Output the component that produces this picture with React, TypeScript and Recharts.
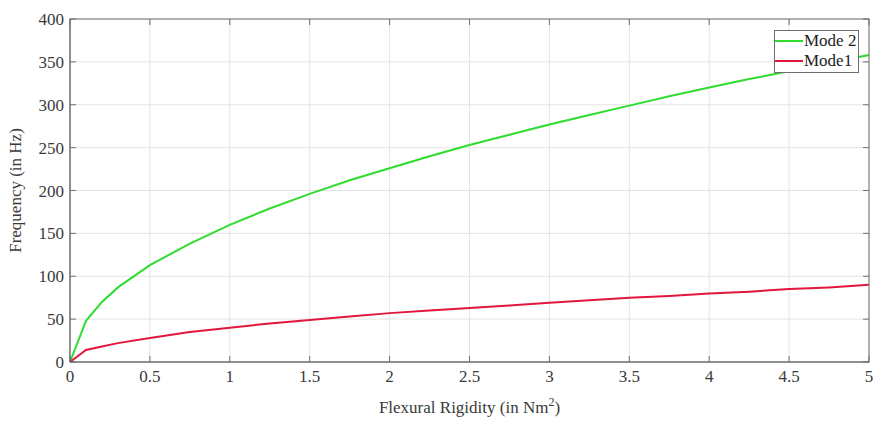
import { LineChart, Line, XAxis, YAxis, CartesianGrid, Legend, Label } from 'recharts';

// flexural rigidity (Nm^2) sample points
const rigidity = [0, 0.1, 0.2, 0.3, 0.5, 0.75, 1, 1.25, 1.5, 1.75, 2, 2.25, 2.5, 2.75, 3, 3.25, 3.5, 3.75, 4, 4.25, 4.5, 4.75, 5];
// natural frequencies (Hz)
const mode2 = [0, 48, 70, 87, 113, 138, 160, 179, 196, 212, 226, 240, 253, 265, 277, 288, 299, 310, 320, 330, 339, 349, 358];
const mode1 = [0, 14, 18, 22, 28, 35, 40, 45, 49, 53, 57, 60, 63, 66, 69, 72, 75, 77, 80, 82, 85, 87, 90];

const xTicks = [0, 0.5, 1, 1.5, 2, 2.5, 3, 3.5, 4, 4.5, 5];
const yTicks = [0, 50, 100, 150, 200, 250, 300, 350, 400];

const series = [
  { key: 'mode2', name: 'Mode 2', color: '#2fdc2f' },
  { key: 'mode1', name: 'Mode1', color: '#e3173e' },
];

const data = rigidity.map((x, i) => ({ x, mode2: mode2[i], mode1: mode1[i] }));

const W = 877;
const H = 425;
const MARGIN = { top: 19, right: 8, left: 0, bottom: 0 };
const X_DOMAIN = [0, 5];
const Y_DOMAIN = [0, 400];

const FONT = 'Liberation Serif, Times New Roman, serif';
const AXIS = '#6e6e6e';
const TEXT = '#3a3a3a';
const TICK = 6;

// ticks point inward, labels outside
const BottomTick = ({ x, y, payload }: any) => (
  <g>
    <line x1={x} x2={x} y1={y} y2={y - TICK} stroke={AXIS} />
    <text x={x} y={y + 20} textAnchor="middle" fontSize={17} fontFamily={FONT} fill={TEXT}>
      {payload.value}
    </text>
  </g>
);

const LeftTick = ({ x, y, payload }: any) => (
  <g>
    <line x1={x} x2={x + TICK} y1={y} y2={y} stroke={AXIS} />
    <text x={x - 6} y={y + 6} textAnchor="end" fontSize={17} fontFamily={FONT} fill={TEXT}>
      {payload.value}
    </text>
  </g>
);

// y-axis title plus the box round the plot, with inward ticks on top and right
const YTitleAndFrame = ({ viewBox }: any) => {
  const left = viewBox.x + viewBox.width;
  const top = viewBox.y;
  const h = viewBox.height;
  const w = W - MARGIN.right - left;
  const sx = (v: number) => left + ((v - X_DOMAIN[0]) / (X_DOMAIN[1] - X_DOMAIN[0])) * w;
  const sy = (v: number) => top + h - ((v - Y_DOMAIN[0]) / (Y_DOMAIN[1] - Y_DOMAIN[0])) * h;
  const cx = viewBox.x + 21;
  const cy = top + h / 2;
  return (
    <g>
      <rect x={left} y={top} width={w} height={h} fill="none" stroke={AXIS} />
      {xTicks.map((t) => (
        <line key={`t${t}`} x1={sx(t)} x2={sx(t)} y1={top} y2={top + TICK} stroke={AXIS} />
      ))}
      {yTicks.map((t) => (
        <line key={`r${t}`} x1={left + w} x2={left + w - TICK} y1={sy(t)} y2={sy(t)} stroke={AXIS} />
      ))}
      <text
        x={cx}
        y={cy}
        transform={`rotate(-90 ${cx} ${cy})`}
        textAnchor="middle"
        fontSize={17}
        fontFamily={FONT}
        fill={TEXT}
      >
        Frequency (in Hz)
      </text>
    </g>
  );
};

const LegendBox = () => (
  <div
    style={{
      background: '#fff',
      border: `1px solid ${AXIS}`,
      padding: '0 2px 1px 0',
      fontFamily: FONT,
      fontSize: 17,
      color: '#222',
      lineHeight: '20px',
    }}
  >
    {series.map((s) => (
      <div key={s.key} style={{ display: 'flex', alignItems: 'center' }}>
        <span style={{ display: 'inline-block', width: 28, height: 2, background: s.color, marginRight: 1 }} />
        <span>{s.name}</span>
      </div>
    ))}
  </div>
);

export default function App() {
  return (
    <div style={{ position: 'absolute', left: 0, top: 0, background: '#fff' }}>
      <LineChart width={W} height={H} data={data} margin={MARGIN}>
        <CartesianGrid stroke="#e4e4e4" />
        <XAxis
          dataKey="x"
          type="number"
          domain={X_DOMAIN}
          ticks={xTicks}
          height={63}
          tickSize={0}
          tickMargin={0}
          tickLine={false}
          stroke={AXIS}
          tick={<BottomTick />}
          interval={0}
        >
          <Label
            content={({ viewBox }: any) => (
              <text
                x={viewBox.x + viewBox.width / 2}
                y={viewBox.y + 51}
                textAnchor="middle"
                fontSize={17}
                fontFamily={FONT}
                fill={TEXT}
              >
                Flexural Rigidity (in Nm
                <tspan dy={-7} fontSize={12}>2</tspan>
                <tspan dy={7}>)</tspan>
              </text>
            )}
          />
        </XAxis>
        <YAxis
          type="number"
          domain={Y_DOMAIN}
          ticks={yTicks}
          width={70}
          tickSize={0}
          tickMargin={0}
          tickLine={false}
          stroke={AXIS}
          tick={<LeftTick />}
          interval={0}
        >
          <Label content={<YTitleAndFrame />} />
        </YAxis>
        {series.map((s) => (
          <Line
            key={s.key}
            type="linear"
            dataKey={s.key}
            name={s.name}
            stroke={s.color}
            strokeWidth={2}
            dot={false}
            isAnimationActive={false}
          />
        ))}
        <Legend
          layout="horizontal"
          verticalAlign="middle"
          align="center"
          content={<LegendBox />}
          wrapperStyle={{ left: 774, top: 30, width: 'auto', height: 'auto' }}
        />
      </LineChart>
    </div>
  );
}
